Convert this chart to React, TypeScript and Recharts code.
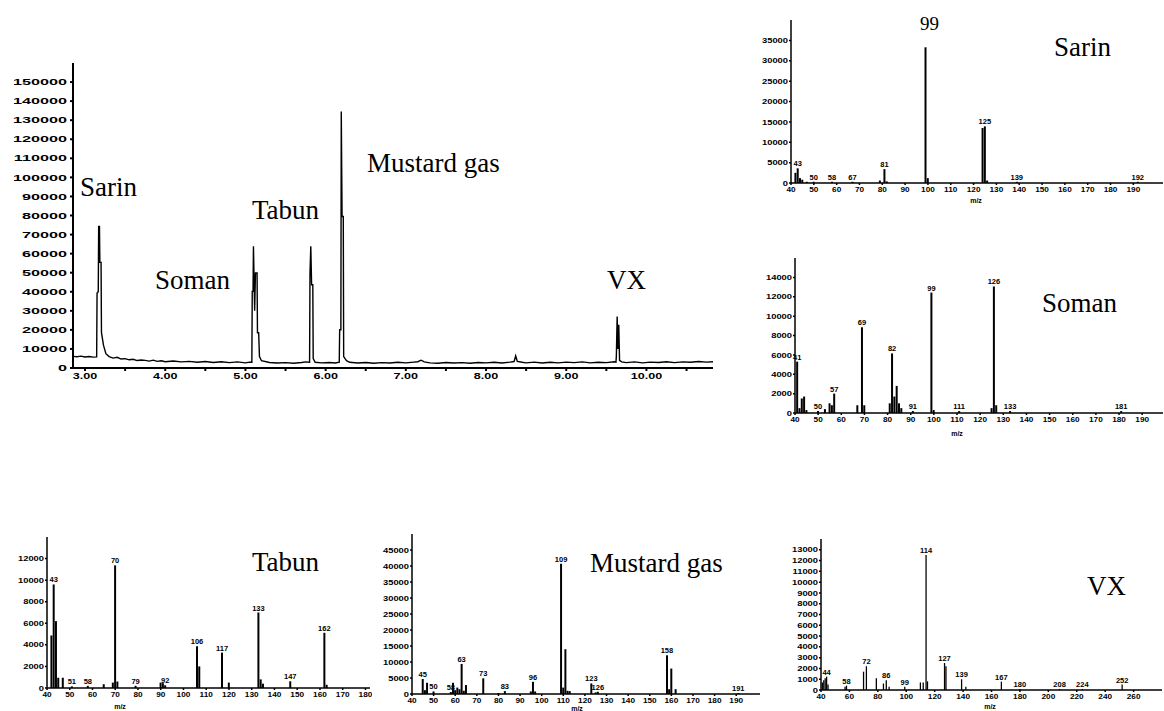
import React from 'react'
import { LineChart, Line, BarChart, Bar, XAxis, YAxis, LabelList } from 'recharts'

const serif = '"Liberation Serif", "Times New Roman", serif'
const tickFont = '"Liberation Sans", Arial, sans-serif'

// ---- total ion chromatogram (time in min, abundance) ----
const chromTime = [
  2.85, 2.9, 2.95, 3.0, 3.05, 3.1, 3.145,
  3.15, 3.165, 3.17, 3.18, 3.185, 3.2, 3.205, 3.23, 3.26, 3.3,
  3.35, 3.4, 3.45, 3.5, 3.55, 3.6, 3.65, 3.7, 3.75, 3.8, 3.85, 3.9, 3.95, 4.0, 4.1, 4.2, 4.3, 4.4, 4.5, 4.6, 4.7, 4.8, 4.9, 5.0, 5.05, 5.08,
  5.085, 5.095, 5.1, 5.115, 5.125, 5.145, 5.15, 5.165, 5.175, 5.2,
  5.3, 5.4, 5.5, 5.6, 5.7, 5.75, 5.8,
  5.805, 5.815, 5.825, 5.84, 5.845, 5.87,
  5.95, 6.05, 6.12, 6.17,
  6.175, 6.19, 6.195, 6.205, 6.22, 6.225, 6.26, 6.3,
  6.4, 6.5, 6.6, 6.7, 6.8, 6.9, 7.0, 7.1, 7.15, 7.19, 7.23, 7.3, 7.4, 7.5, 7.6, 7.7, 7.8, 7.9, 8.0, 8.1, 8.2, 8.3, 8.35, 8.37, 8.39, 8.45, 8.5, 8.6, 8.7, 8.8, 8.9, 9.0, 9.1, 9.2, 9.3, 9.4, 9.5, 9.6, 9.62,
  9.625, 9.635, 9.645, 9.655, 9.665, 9.69,
  9.75, 9.85, 9.95, 10.05, 10.15, 10.25, 10.35, 10.45, 10.55, 10.65, 10.75, 10.83,
]
const chromAbund = [
  6100, 5900, 6200, 5800, 6000, 5700, 5800,
  39300, 40000, 74200, 74200, 55400, 55400, 18500, 12000, 7500, 6000,
  5200, 5600, 4700, 4900, 4300, 4600, 3900, 4200, 4000, 3600, 4100, 3500, 3800, 3300, 3700, 3200, 3500, 3000, 3400, 2900, 3300, 2800, 3200, 2700, 3100, 3000,
  40200, 40200, 63800, 30000, 49800, 49800, 18500, 18500, 6000, 3800,
  2900, 2600, 2800, 2500, 2900, 3200, 3000,
  49800, 63800, 43700, 43700, 5000, 3000,
  2700, 2900, 2600, 3000,
  20100, 20100, 134600, 79500, 79500, 6000, 3800, 3000,
  2600, 2900, 2500, 2800, 2600, 3000, 2700, 3100, 3300, 4100, 3200, 2700, 2500, 2900, 2600, 2800, 2500, 2900, 2700, 3000, 2600, 3100, 3400, 6400, 3500, 3000, 2700, 3100, 2600, 3000, 2700, 3100, 2800, 3200, 2700, 3000, 2800, 3300, 3100,
  6100, 27000, 10000, 22700, 4000, 3200,
  2800, 3200, 2700, 3100, 2900, 3300, 2800, 3200, 3000, 3400, 3100, 3300,
]
const chromXTicks = [3, 3.5, 4, 4.5, 5, 5.5, 6, 6.5, 7, 7.5, 8, 8.5, 9, 9.5, 10, 10.5]
const chromYTicks = [0, 10000, 20000, 30000, 40000, 50000, 60000, 70000, 80000, 90000, 100000, 110000, 120000, 130000, 140000, 150000]

// ---- mass spectra ----
const sarinMz = [42, 43, 44, 45, 47, 50, 58, 67, 79, 81, 82, 99, 100, 124, 125, 126, 139, 192]
const sarinAb = [2500, 3600, 1200, 800, 300, 300, 300, 300, 600, 3400, 400, 33300, 1200, 13500, 13900, 600, 300, 300]
const sarinLbl = ['', '43', '', '', '', '50', '58', '67', '', '81', '', '', '', '', '125', '', '139', '192']

const somanMz = [41, 42, 43, 44, 45, 50, 53, 55, 56, 57, 67, 69, 70, 81, 82, 83, 84, 85, 86, 91, 99, 100, 111, 125, 126, 127, 133, 181]
const somanAb = [5300, 500, 1500, 1700, 300, 200, 400, 1000, 800, 2000, 800, 8850, 800, 1000, 6150, 1700, 2800, 1000, 500, 200, 12430, 300, 200, 500, 13060, 800, 200, 200]
const somanLbl = ['41', '', '', '', '', '50', '', '', '', '57', '', '69', '', '', '82', '', '', '', '', '91', '99', '', '111', '', '126', '', '133', '181']

const tabunMz = [42, 43, 44, 45, 47, 51, 58, 65, 69, 70, 71, 79, 90, 91, 92, 106, 107, 117, 120, 133, 134, 135, 147, 162, 163]
const tabunAb = [4870, 9600, 6200, 950, 950, 150, 200, 350, 500, 11370, 600, 200, 500, 450, 250, 3870, 2000, 3280, 500, 7000, 800, 400, 620, 5120, 300]
const tabunLbl = ['', '43', '', '', '', '51', '58', '', '', '70', '', '79', '', '', '92', '106', '', '117', '', '133', '', '', '147', '162', '']

const mustardMz = [45, 46, 47, 50, 58, 59, 60, 61, 62, 63, 64, 65, 73, 80, 83, 95, 96, 97, 109, 110, 111, 112, 113, 123, 125, 126, 158, 159, 160, 162, 191]
const mustardAb = [4700, 1200, 3500, 800, 600, 3500, 1200, 2000, 1500, 9400, 1000, 2800, 4900, 300, 900, 800, 3800, 800, 40700, 2000, 14000, 1000, 900, 3300, 500, 700, 12100, 1500, 7950, 1500, 300]
const mustardLbl = ['45', '', '', '50', '58', '', '', '', '', '63', '', '', '73', '', '83', '', '96', '', '109', '', '', '', '', '123', '', '126', '158', '', '', '', '191']

const vxMz = [41, 42, 43, 44, 45, 57, 58, 70, 72, 79, 84, 86, 88, 99, 110, 112, 114, 115, 127, 128, 139, 142, 167, 180, 208, 224, 252]
const vxAb = [700, 900, 1100, 1240, 500, 300, 400, 1700, 2200, 1100, 600, 900, 300, 300, 700, 700, 12520, 800, 2500, 2200, 1000, 300, 775, 100, 100, 100, 500]
const vxLbl = ['', '', '', '44', '', '', '58', '', '72', '', '', '86', '', '99', '', '', '114', '', '127', '', '139', '', '167', '180', '208', '224', '252']

const steps = (from: number, to: number, step: number) => {
  const out: number[] = []
  for (let v = from; v <= to; v += step) out.push(v)
  return out
}

function ScanTick(props: any) {
  const { x, y, payload, side, fs, sx, fmt } = props
  const label = fmt ? fmt(payload.value) : String(payload.value)
  if (!label) return null
  return (
    <g transform={`translate(${x},${y})`}>
      <text
        transform={`scale(${sx},1)`}
        x={0}
        y={0}
        dy={side === 'y' ? '0.35em' : '0.75em'}
        textAnchor={side === 'y' ? 'end' : 'middle'}
        fontSize={fs}
        fontWeight="bold"
        fontFamily={tickFont}
        fill="#000"
      >
        {label}
      </text>
    </g>
  )
}

function PeakLabel(props: any) {
  const { x, y, width, value } = props
  if (!value) return null
  return (
    <text
      x={x + width / 2}
      y={y - 2}
      textAnchor="middle"
      fontSize={7.5}
      fontWeight="bold"
      fontFamily={tickFont}
      fill="#000"
    >
      {value}
    </text>
  )
}

function Title({ text, left, cy, size = 27 }: { text: string; left: number; cy: number; size?: number }) {
  return (
    <div
      style={{
        position: 'absolute',
        left,
        top: cy - size / 2,
        fontFamily: serif,
        fontSize: size,
        lineHeight: `${size}px`,
        whiteSpace: 'nowrap',
        color: '#000',
      }}
    >
      {text}
    </div>
  )
}

function AxisName({ cx, cy }: { cx: number; cy: number }) {
  return (
    <div
      style={{
        position: 'absolute',
        left: cx,
        top: cy,
        transform: 'translate(-50%, -50%)',
        fontFamily: tickFont,
        fontWeight: 'bold',
        fontSize: 7,
        lineHeight: '7px',
        color: '#000',
      }}
    >
      m/z
    </div>
  )
}

interface SpectrumProps {
  mz: number[]
  ab: number[]
  lbl: string[]
  xDomain: [number, number]
  xTicks: number[]
  yDomain: [number, number]
  yTicks: number[]
  x0: number
  x1: number
  yTop: number
  yBase: number
  yAxisWidth: number
  clipRight?: number
}

function Spectrum(p: SpectrumProps) {
  const data = p.mz.map((m, i) => ({ mz: m, ab: p.ab[i], lbl: p.lbl[i] }))
  const padTop = 12
  const xAxisH = 22
  const left = p.x0 - p.yAxisWidth
  const width = p.yAxisWidth + (p.x1 - p.x0) + 6
  const height = padTop + (p.yBase - p.yTop) + xAxisH
  return (
    <div
      style={{
        position: 'absolute',
        left,
        top: p.yTop - padTop,
        width: p.clipRight ? p.clipRight - left : width,
        height,
        overflow: 'hidden',
      }}
    >
      <BarChart width={width} height={height} data={data} margin={{ top: padTop, right: 6, bottom: 0, left: 0 }}>
        <XAxis
          type="number"
          dataKey="mz"
          domain={p.xDomain}
          ticks={p.xTicks}
          interval={0}
          height={xAxisH}
          tickSize={2}
          tickMargin={1}
          stroke="#000"
          strokeWidth={1.5}
          allowDataOverflow
          tick={<ScanTick side="x" fs={7.5} sx={1.1} />}
        />
        <YAxis
          domain={p.yDomain}
          ticks={p.yTicks}
          interval={0}
          width={p.yAxisWidth}
          tickSize={2}
          tickMargin={1}
          stroke="#000"
          strokeWidth={1.5}
          allowDataOverflow
          tick={<ScanTick side="y" fs={7.5} sx={1.25} />}
        />
        <Bar dataKey="ab" fill="#000" barSize={2} isAnimationActive={false}>
          <LabelList dataKey="lbl" content={(lp: any) => <PeakLabel {...lp} />} />
        </Bar>
      </BarChart>
    </div>
  )
}

function Chromatogram() {
  const data = chromTime.map((t, i) => ({ t, a: chromAbund[i] }))
  const x0 = 73
  const x1 = 713
  const yTop = 63
  const yBase = 368
  const yAxisW = 68
  const xAxisH = 18
  return (
    <div style={{ position: 'absolute', left: x0 - yAxisW, top: yTop }}>
      <LineChart
        width={yAxisW + (x1 - x0) + 4}
        height={yBase - yTop + xAxisH}
        data={data}
        margin={{ top: 0, right: 4, bottom: 0, left: 0 }}
      >
        <XAxis
          type="number"
          dataKey="t"
          domain={[2.85, 10.83]}
          ticks={chromXTicks}
          interval={0}
          height={xAxisH}
          tickSize={3}
          tickMargin={1}
          stroke="#000"
          strokeWidth={2}
          allowDataOverflow
          tick={<ScanTick side="x" fs={9} sx={1.4} fmt={(v: number) => (Number.isInteger(v) ? v.toFixed(2) : '')} />}
        />
        <YAxis
          domain={[0, 160000]}
          ticks={chromYTicks}
          interval={0}
          width={yAxisW}
          tickSize={3}
          tickMargin={3}
          stroke="#000"
          strokeWidth={2}
          allowDataOverflow
          tick={<ScanTick side="y" fs={9} sx={1.8} />}
        />
        <Line type="linear" dataKey="a" stroke="#000" strokeWidth={1.4} dot={false} isAnimationActive={false} />
      </LineChart>
    </div>
  )
}

export default function App() {
  return (
    <div
      style={{
        position: 'absolute',
        left: 0,
        top: 0,
        width: 1164,
        height: 711,
        background: '#fff',
        overflow: 'hidden',
      }}
    >
      <Chromatogram />
      <Title text="Sarin" left={80} cy={187} />
      <Title text="Soman" left={155} cy={280} />
      <Title text="Tabun" left={252} cy={210} />
      <Title text="Mustard gas" left={367} cy={163} />
      <Title text="VX" left={607} cy={280} />

      <Spectrum
        mz={sarinMz} ab={sarinAb} lbl={sarinLbl}
        xDomain={[40, 203]} xTicks={steps(40, 190, 10)}
        yDomain={[0, 40000]} yTicks={steps(0, 35000, 5000)}
        x0={791} x1={1163} yTop={20} yBase={183} yAxisWidth={42}
        clipRight={1164}
      />
      <Title text="99" left={920} cy={23} size={19} />
      <Title text="Sarin" left={1054} cy={47} />
      <AxisName cx={976} cy={200} />

      <Spectrum
        mz={somanMz} ab={somanAb} lbl={somanLbl}
        xDomain={[40, 199]} xTicks={steps(40, 190, 10)}
        yDomain={[0, 16000]} yTicks={steps(0, 14000, 2000)}
        x0={795} x1={1163} yTop={258} yBase={413} yAxisWidth={42}
        clipRight={1164}
      />
      <Title text="Soman" left={1042} cy={303} />
      <AxisName cx={957} cy={433} />

      <Spectrum
        mz={tabunMz} ab={tabunAb} lbl={tabunLbl}
        xDomain={[40, 182]} xTicks={steps(40, 180, 10)}
        yDomain={[0, 14000]} yTicks={steps(0, 12000, 2000)}
        x0={47} x1={370} yTop={537} yBase={688} yAxisWidth={46}
        clipRight={372}
      />
      <Title text="Tabun" left={252} cy={562} />
      <AxisName cx={120} cy={706} />

      <Spectrum
        mz={mustardMz} ab={mustardAb} lbl={mustardLbl}
        xDomain={[40, 201]} xTicks={steps(40, 190, 10)}
        yDomain={[0, 50000]} yTicks={steps(0, 45000, 5000)}
        x0={412} x1={760} yTop={534} yBase={694} yAxisWidth={38}
      />
      <Title text="Mustard gas" left={590} cy={563} />
      <AxisName cx={577} cy={707.5} />

      <Spectrum
        mz={vxMz} ab={vxAb} lbl={vxLbl}
        xDomain={[40, 280]} xTicks={steps(40, 260, 20)}
        yDomain={[0, 14000]} yTicks={steps(0, 13000, 1000)}
        x0={821} x1={1162} yTop={539} yBase={690} yAxisWidth={38}
        clipRight={1164}
      />
      <Title text="VX" left={1087} cy={586} />
      <AxisName cx={990} cy={706} />
    </div>
  )
}
